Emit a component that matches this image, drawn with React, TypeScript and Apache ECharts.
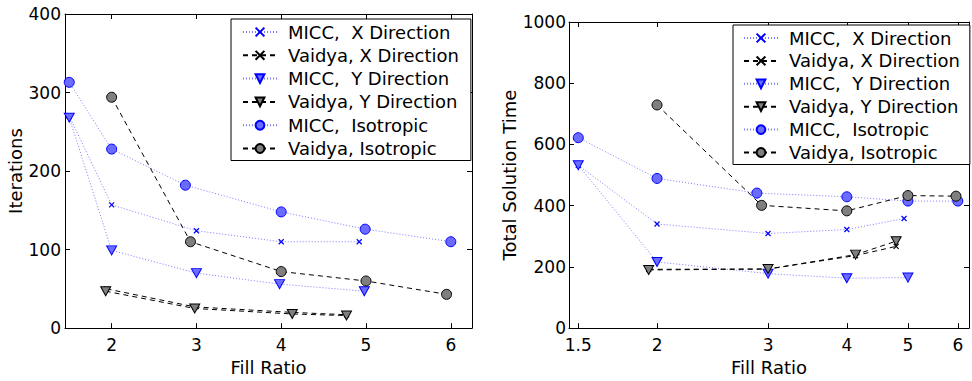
import React, { useEffect, useRef } from 'react';
import * as echarts from 'echarts';

// ---------- data ----------
const seriesNames = [
  'MICC,  X Direction',
  'Vaidya, X Direction',
  'MICC,  Y Direction',
  'Vaidya, Y Direction',
  'MICC,  Isotropic',
  'Vaidya, Isotropic',
];

const xTicksLeft = [2, 3, 4, 5, 6];
const xTicksRight = [1.5, 2, 3, 4, 5, 6];

// Left panel: Iterations vs Fill Ratio
const itMiccXFill = [1.5, 2, 3, 4, 4.92];
const itMiccXVal = [270, 157, 124, 110, 110];
const itVaidyaXFill = [1.94, 2.98, 4.13, 4.77];
const itVaidyaXVal = [50, 27, 20, 17];
const itMiccYFill = [1.5, 2, 3, 3.98, 4.98];
const itMiccYVal = [268, 99, 70, 56, 47];
const itVaidyaYFill = [1.93, 2.98, 4.13, 4.77];
const itVaidyaYVal = [47, 25, 18, 16];
const itMiccIsoFill = [1.5, 2, 2.87, 4, 4.99, 6];
const itMiccIsoVal = [313, 228, 182, 148, 126, 110];
const itVaidyaIsoFill = [2, 2.93, 4, 5, 5.95];
const itVaidyaIsoVal = [294, 110, 72, 60, 43];

// Right panel: Total Solution Time vs Fill Ratio (log x)
const tmMiccXFill = [1.5, 2, 3, 4, 4.93];
const tmMiccXVal = [532, 340, 309, 322, 358];
const tmVaidyaXFill = [1.94, 3, 4.13, 4.79];
const tmVaidyaXVal = [192, 193, 237, 267];
const tmMiccYFill = [1.5, 2, 3, 4, 5];
const tmMiccYVal = [532, 216, 178, 163, 165];
const tmVaidyaYFill = [1.94, 3, 4.13, 4.79];
const tmVaidyaYVal = [190, 193, 240, 284];
const tmMiccIsoFill = [1.5, 2, 2.88, 4, 5, 6];
const tmMiccIsoVal = [622, 489, 441, 429, 415, 415];
const tmVaidyaIsoFill = [2, 2.93, 4, 5, 5.96];
const tmVaidyaIsoVal = [729, 401, 383, 433, 431];

// ---------- styles ----------
const FONT = "'DejaVu Sans', 'Liberation Sans', Arial, sans-serif";
const BLUE = '#0000ff';
const BLUE_FILL = '#6b6bff';
const BLUE_LINE = '#7a7aff';
const GRAY_FILL = '#7f7f7f';
const X_PATH = 'path://M0,0L10,10M0,10L10,0';

const styles: any[] = [
  { symbol: X_PATH, symbolSize: 5, itemStyle: { color: BLUE, borderColor: BLUE, borderWidth: 1.2 }, lineStyle: { color: BLUE_LINE, type: [1, 2], width: 1 } },
  { symbol: X_PATH, symbolSize: 5, itemStyle: { color: '#000', borderColor: '#000', borderWidth: 1.2 }, lineStyle: { color: '#000', type: [5, 4], width: 1 } },
  { symbol: 'triangle', symbolRotate: 180, symbolSize: [10, 9], itemStyle: { color: BLUE_FILL, borderColor: BLUE, borderWidth: 1 }, lineStyle: { color: BLUE_LINE, type: [1, 2], width: 1 } },
  { symbol: 'triangle', symbolRotate: 180, symbolSize: [10, 9], itemStyle: { color: GRAY_FILL, borderColor: '#000', borderWidth: 1 }, lineStyle: { color: '#000', type: [5, 4], width: 1 } },
  { symbol: 'circle', symbolSize: 10, itemStyle: { color: BLUE_FILL, borderColor: BLUE, borderWidth: 1 }, lineStyle: { color: BLUE_LINE, type: [1, 2], width: 1 } },
  { symbol: 'circle', symbolSize: 10, itemStyle: { color: GRAY_FILL, borderColor: '#000', borderWidth: 1 }, lineStyle: { color: '#000', type: [5, 4], width: 1 } },
];

const zip = (xs: number[], ys: number[]) => xs.map((x, i) => [x, ys[i]]);

const leftData = [
  zip(itMiccXFill, itMiccXVal),
  zip(itVaidyaXFill, itVaidyaXVal),
  zip(itMiccYFill, itMiccYVal),
  zip(itVaidyaYFill, itVaidyaYVal),
  zip(itMiccIsoFill, itMiccIsoVal),
  zip(itVaidyaIsoFill, itVaidyaIsoVal),
];
const rightData = [
  zip(tmMiccXFill, tmMiccXVal),
  zip(tmVaidyaXFill, tmVaidyaXVal),
  zip(tmMiccYFill, tmMiccYVal),
  zip(tmVaidyaYFill, tmVaidyaYVal),
  zip(tmMiccIsoFill, tmMiccIsoVal),
  zip(tmVaidyaIsoFill, tmVaidyaIsoVal),
];

const axisLine = { show: true, onZero: false, lineStyle: { color: '#000', width: 1 } };
const tickStyle = { color: '#000', width: 1 };
const labelStyle = { color: '#000', fontSize: 17, fontFamily: FONT };
const nameStyle = { color: '#000', fontSize: 18, fontFamily: FONT };

function xAxes(grid: number, type: string, ticks: number[], nameGap: number) {
  const base: any = {
    gridIndex: grid,
    type,
    min: 1.45,
    max: 6.25,
    splitLine: { show: false },
    minorTick: { show: false },
    axisLine,
  };
  if (type === 'log') base.logBase = 10;
  return [
    {
      ...base,
      position: 'bottom',
      axisTick: { show: true, inside: true, length: 5, customValues: ticks, lineStyle: tickStyle },
      axisLabel: { show: true, customValues: ticks, margin: 8, formatter: (v: number) => String(v), ...labelStyle },
      name: 'Fill Ratio',
      nameLocation: 'middle',
      nameGap,
      nameTextStyle: nameStyle,
    },
    {
      ...base,
      position: 'top',
      axisTick: { show: true, inside: true, length: 5, customValues: ticks, lineStyle: tickStyle },
      axisLabel: { show: false, customValues: ticks },
    },
  ];
}

function yAxes(grid: number, max: number, interval: number, name: string, nameGap: number, margin: number) {
  const base: any = {
    gridIndex: grid,
    type: 'value',
    min: 0,
    max,
    interval,
    splitLine: { show: false },
    axisLine,
  };
  return [
    {
      ...base,
      position: 'left',
      axisTick: { show: true, inside: true, length: 5, lineStyle: tickStyle },
      axisLabel: { show: true, margin, formatter: (v: number) => String(v), ...labelStyle },
      name,
      nameLocation: 'middle',
      nameGap,
      nameTextStyle: nameStyle,
    },
    {
      ...base,
      position: 'right',
      axisTick: { show: true, inside: true, length: 5, lineStyle: tickStyle },
      axisLabel: { show: false },
    },
  ];
}

function legend(left: number, top: number, gap: number, padding: number[]) {
  return {
    orient: 'vertical',
    left,
    top,
    data: seriesNames,
    itemWidth: 34,
    itemHeight: 11,
    itemGap: gap,
    padding,
    backgroundColor: '#fff',
    borderColor: '#000',
    borderWidth: 1,
    borderRadius: 0,
    selectedMode: false,
    textStyle: { color: '#000', fontSize: 18, fontFamily: FONT, lineHeight: 18, padding: [0, 0, 0, 6] },
  };
}

export default function App() {
  const ref = useRef<HTMLDivElement>(null);
  useEffect(() => {
    if (!ref.current) return;
    const chart = echarts.init(ref.current, undefined, { renderer: 'svg' });
    const series: any[] = [];
    seriesNames.forEach((name, i) => {
      series.push({ name, type: 'line', xAxisIndex: 0, yAxisIndex: 0, data: leftData[i], showAllSymbol: true, ...styles[i] });
    });
    seriesNames.forEach((name, i) => {
      series.push({ name, type: 'line', xAxisIndex: 2, yAxisIndex: 2, data: rightData[i], showAllSymbol: true, ...styles[i] });
    });
    chart.setOption({
      animation: false,
      backgroundColor: '#fff',
      grid: [
        { left: 65, top: 14, width: 407, height: 320, containLabel: false },
        { left: 569, top: 22, width: 400, height: 313, containLabel: false },
      ],
      xAxis: [...xAxes(0, 'value', xTicksLeft, 23), ...xAxes(1, 'log', xTicksRight, 23)],
      yAxis: [...yAxes(0, 400, 100, 'Iterations', 36, 4), ...yAxes(1, 1000, 200, 'Total Solution Time', 46, 3)],
      legend: [legend(231, 19, 5.3, [4, 12, 3, 11]), legend(733, 25, 4.9, [4, 10, 3, 10])],
      series,
    });
    return () => chart.dispose();
  }, []);
  return <div ref={ref} style={{ position: 'fixed', left: 0, top: 0, width: 972, height: 381 }} />;
}
